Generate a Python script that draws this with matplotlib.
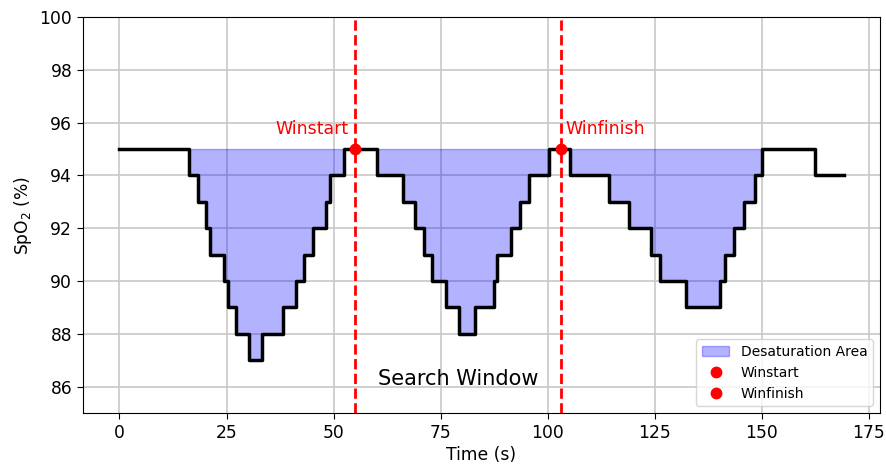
import numpy as np
import matplotlib
matplotlib.use("Agg")
from matplotlib import pyplot

# SpO2 step trace (value holds from each time until the next)
time_s = [0, 16.2, 18.3, 20.2, 21.1, 24.5, 25.3, 27.1, 30.2, 33.3, 38.2, 41.2, 43.0, 45.1,
          48.2, 49.1, 52.5, 60.1, 66.1, 69.1, 71.0, 73.0, 76.3, 79.2, 83.0, 87.4, 88.2,
          91.5, 93.6, 95.6, 100.2, 105.3, 114.2, 119.1, 124.1, 126.2, 132.2, 140.3, 141.5,
          143.4, 145.8, 148.5, 150.0, 162.5, 169.1]
spo2 = [95, 94, 93, 92, 91, 90, 89, 88, 87, 88, 89, 90, 91, 92,
        93, 94, 95, 94, 93, 92, 91, 90, 89, 88, 89, 90, 91,
        92, 93, 94, 95, 94, 93, 92, 91, 90, 89, 90, 91,
        92, 93, 94, 95, 94, 94]

baseline = 95
desat_end = 150.0
win_start = 55
win_finish = 103

t = np.array(time_s)
y = np.array(spo2)

fig = pyplot.figure(figsize=(8.86, 4.7), dpi=100)
ax = fig.add_axes([0.094, 0.121, 0.899, 0.843])

ax.plot(t, y, drawstyle='steps-post', color='black', lw=2.5, zorder=3)
ax.fill_between(t, y, baseline, where=t <= desat_end, step='post',
                color='blue', alpha=0.3, label='Desaturation Area', zorder=2)

ax.axvline(win_start, color='red', ls='--', lw=2, zorder=4)
ax.axvline(win_finish, color='red', ls='--', lw=2, zorder=4)
ax.plot(win_start, baseline, 'o', color='red', ms=7.5, label='Winstart', zorder=5)
ax.plot(win_finish, baseline, 'o', color='red', ms=7.5, label='Winfinish', zorder=5)

ax.text(win_start - 1.5, baseline + 0.4, 'Winstart', color='red', fontsize=12.5, ha='right', va='bottom')
ax.text(win_finish + 1.2, baseline + 0.4, 'Winfinish', color='red', fontsize=12.5, ha='left', va='bottom')
ax.text((win_start + win_finish) / 2, 86.3, 'Search Window', fontsize=15, ha='center', va='center')

ax.set_ylim(85, 100)
ax.set_yticks(range(86, 101, 2))
ax.set_xticks(range(0, 176, 25))
ax.tick_params(labelsize=12.3, length=4.5)
ax.set_xlabel('Time (s)', fontsize=12.3, labelpad=3)
ax.set_ylabel('SpO$_2$ (%)', fontsize=12.3)
ax.grid(True, color='#c8c8c8', lw=1.2)
ax.set_axisbelow(True)
ax.legend(loc='lower right', fontsize=10)

fig.savefig('out.png', dpi=100)
